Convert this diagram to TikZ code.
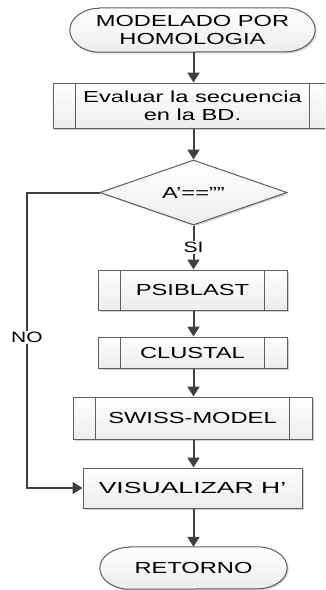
\documentclass[tikz,border=0pt]{standalone}
\usepackage{fontspec}
\setmainfont[FakeStretch=1.48]{Liberation Sans}
\newfontfamily\widefont[FakeStretch=1.66]{Liberation Sans}
\newfontfamily\labfont[FakeStretch=1.4]{Liberation Sans}
\usetikzlibrary{shapes.geometric,arrows.meta,shadows,backgrounds}
\definecolor{bordc}{HTML}{5E5E5E}
\definecolor{linec}{HTML}{404040}
\definecolor{boxfill}{HTML}{F2F2F2}
\tikzset{
  x=1pt, y=1pt,
  boxshadow/.style={drop shadow={shadow xshift=1.5pt, shadow yshift=-1.5pt, fill=black, opacity=0.18}},
  boxbase/.style={draw=bordc, line width=1pt, top color=white, bottom color=boxfill!85!gray!60, boxshadow,
    align=center, inner sep=1pt, font=\fontsize{16}{18}\selectfont, text=black},
  procbox/.style={boxbase, rectangle},
  diamondbox/.style={boxbase, diamond, aspect=2.9},
  termtext/.style={rectangle, draw=none, align=center, inner sep=1pt, font=\fontsize{16}{18}\selectfont},
  termshape/.style={draw=bordc, line width=1pt, top color=white, bottom color=boxfill!85!gray!60, boxshadow},
  inner/.style={draw=bordc, line width=1pt},
  conn/.style={draw=linec, line width=2pt, -{Triangle[width=12pt,length=10pt]}},
  lab/.style={fill=white, inner sep=1pt, font=\labfont\fontsize{15}{17}\selectfont}
}
\begin{document}
\begin{tikzpicture}
\clip (0,0) rectangle (325,-590);

% start terminal
\node[termtext, minimum width=245pt, minimum height=44pt] (start) at (192.5,-30) {MODELADO POR\\HOMOLOGIA};
\begin{pgfonlayer}{background}
\fill[white] (0,0) rectangle (325,-590);
\path[termshape] ([xshift=30pt]start.north west) -- ([xshift=-30pt]start.north east)
  arc[start angle=90, end angle=-90, x radius=30pt, y radius=22pt]
  -- ([xshift=30pt]start.south west)
  arc[start angle=270, end angle=90, x radius=30pt, y radius=22pt] -- cycle;
\end{pgfonlayer}

% evaluar
\node[procbox, minimum width=279pt, minimum height=45pt] (eval) at (192.5,-105.5) {Evaluar la secuencia\\en la BD.};
\draw[inner] ([xshift=23pt]eval.north west) -- ([xshift=23pt]eval.south west);
\draw[inner] ([xshift=-23pt]eval.north east) -- ([xshift=-23pt]eval.south east);

% decision
\node[diamondbox, minimum width=187pt, minimum height=65pt, inner sep=0pt] (dec) at (193.5,-192.5) {A’==””};

% psiblast
\node[procbox, minimum width=189pt, minimum height=40pt] (psi) at (192.5,-290) {PSIBLAST};
\draw[inner] ([xshift=23pt]psi.north west) -- ([xshift=23pt]psi.south west);
\draw[inner] ([xshift=-23pt]psi.north east) -- ([xshift=-23pt]psi.south east);

% clustal
\node[procbox, minimum width=189pt, minimum height=31pt] (clu) at (192.5,-352.5) {CLUSTAL};
\draw[inner] ([xshift=23pt]clu.north west) -- ([xshift=23pt]clu.south west);
\draw[inner] ([xshift=-23pt]clu.north east) -- ([xshift=-23pt]clu.south east);

% swiss
\node[procbox, minimum width=239pt, minimum height=42pt] (swi) at (192.5,-418) {SWISS-MODEL};
\draw[inner] ([xshift=23pt]swi.north west) -- ([xshift=23pt]swi.south west);
\draw[inner] ([xshift=-23pt]swi.north east) -- ([xshift=-23pt]swi.south east);

% visualizar
\node[procbox, minimum width=219pt, minimum height=40pt, font=\widefont\fontsize{16}{18}\selectfont] (vis) at (192.5,-488) {VISUALIZAR H’};

% end terminal
\node[termtext, minimum width=187pt, minimum height=42pt] (ret) at (193.5,-568) {RETORNO};
\begin{pgfonlayer}{background}
\path[termshape] ([xshift=30pt]ret.north west) -- ([xshift=-30pt]ret.north east)
  arc[start angle=90, end angle=-90, x radius=30pt, y radius=21pt]
  -- ([xshift=30pt]ret.south west)
  arc[start angle=270, end angle=90, x radius=30pt, y radius=21pt] -- cycle;
\end{pgfonlayer}

% connectors
\coordinate (nocorner1) at (27,-192.5);
\coordinate (nocorner2) at (27,-488);
\draw[conn] (start.south -| dec.north) -- (eval.north -| dec.north);
\draw[conn] (eval.south -| dec.north) -- (dec.north);
\draw[conn] (dec.south) -- node[lab] {SI} (psi.north -| dec.south);
\draw[conn] (psi.south -| dec.south) -- (clu.north -| dec.south);
\draw[conn] (clu.south -| dec.south) -- (swi.north -| dec.south);
\draw[conn] (swi.south -| dec.south) -- (vis.north -| dec.south);
\draw[conn] (vis.south -| dec.south) -- (ret.north);
\draw[conn] (dec.west) -- (nocorner1) -- node[lab, pos=0.49] {NO} (nocorner2) -- (vis.west);
\end{tikzpicture}
\end{document}
